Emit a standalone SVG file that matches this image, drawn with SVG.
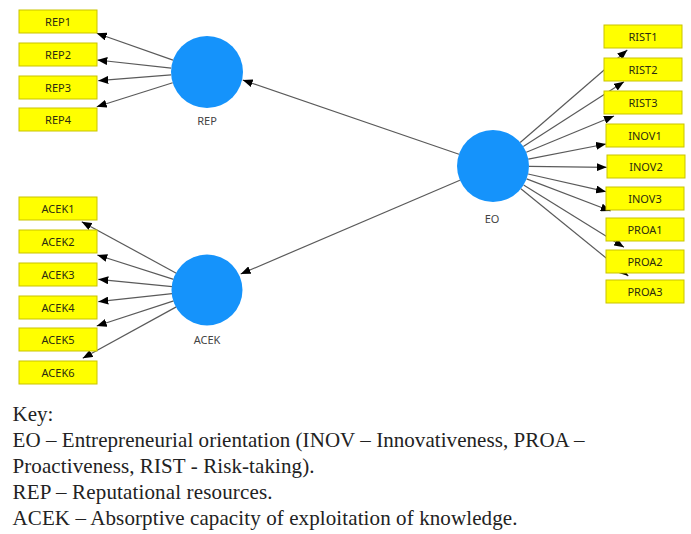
<svg xmlns="http://www.w3.org/2000/svg" width="691" height="534" viewBox="0 0 691 534">
<defs>
<marker id="arr" markerUnits="userSpaceOnUse" markerWidth="10" markerHeight="8" refX="10" refY="4" orient="auto">
<path d="M0,0 L10,4 L0,8 z" fill="#000"/>
</marker>
<style>
.c{stroke:#5a5a5a;stroke-width:1.2;fill:none;marker-end:url(#arr)}
.ind rect{fill:#FFFF00;stroke:#C9C300;stroke-width:1}
.ind text{font-family:"Noto Sans","DejaVu Sans",sans-serif;font-size:11px;fill:#2b2b10;text-anchor:middle}
.lat circle{fill:#1593FB}
.lat text{font-family:"Noto Sans","DejaVu Sans",sans-serif;font-size:11px;fill:#444;text-anchor:middle}
.key{font-family:"Liberation Serif","Times New Roman",serif;font-size:21px;fill:#222}
</style>
</defs>
<rect width="691" height="534" fill="#fff"/>
<g id="connectors">
<line class="c" x1="173" y1="60.1" x2="96.7" y2="33.3"/>
<line class="c" x1="171.2" y1="68.1" x2="97.3" y2="60"/>
<line class="c" x1="171.1" y1="74.9" x2="98.3" y2="80.7"/>
<line class="c" x1="172.7" y1="82.8" x2="96.7" y2="106.7"/>
<line class="c" x1="176.3" y1="273.2" x2="81.7" y2="221.7"/>
<line class="c" x1="173.6" y1="279.4" x2="97.3" y2="255"/>
<line class="c" x1="172.2" y1="286.6" x2="98.3" y2="279.3"/>
<line class="c" x1="172.2" y1="293.7" x2="98.3" y2="301.7"/>
<line class="c" x1="173.7" y1="300.9" x2="96.7" y2="326"/>
<line class="c" x1="176.3" y1="306.9" x2="82.7" y2="358.3"/>
<line class="c" x1="459" y1="154.3" x2="242.7" y2="80"/>
<line class="c" x1="459.9" y1="180.2" x2="240.7" y2="274"/>
<line class="c" x1="520.2" y1="142.5" x2="627.3" y2="50"/>
<line class="c" x1="523.3" y1="146.5" x2="624" y2="81.7"/>
<line class="c" x1="526.3" y1="152.2" x2="614" y2="116"/>
<line class="c" x1="528.3" y1="159.1" x2="606" y2="144"/>
<line class="c" x1="529" y1="166.4" x2="606.7" y2="167.3"/>
<line class="c" x1="528.1" y1="174" x2="606" y2="191.7"/>
<line class="c" x1="526.6" y1="178.9" x2="610.7" y2="211"/>
<line class="c" x1="523.6" y1="185" x2="624" y2="247.3"/>
<line class="c" x1="520.9" y1="188.7" x2="628.3" y2="276"/>
</g>
<g id="REP" class="lat"><circle cx="207" cy="72" r="36"/><text x="207" y="125">REP</text></g>
<g id="ACEK" class="lat"><circle cx="207" cy="290" r="35.5"/><text x="207" y="344">ACEK</text></g>
<g id="EO" class="lat"><circle cx="493" cy="166" r="36"/><text x="492" y="223">EO</text></g>
<g id="REP1" class="ind"><rect x="19" y="10" width="78" height="23"/><text x="58" y="25.5">REP1</text></g>
<g id="REP2" class="ind"><rect x="19" y="43" width="78" height="23"/><text x="58" y="58.5">REP2</text></g>
<g id="REP3" class="ind"><rect x="19" y="76" width="78" height="23"/><text x="58" y="91.5">REP3</text></g>
<g id="REP4" class="ind"><rect x="19" y="108" width="78" height="23"/><text x="58" y="123.5">REP4</text></g>
<g id="ACEK1" class="ind"><rect x="19" y="197" width="78" height="23"/><text x="58" y="212.5">ACEK1</text></g>
<g id="ACEK2" class="ind"><rect x="19" y="230" width="78" height="23"/><text x="58" y="245.5">ACEK2</text></g>
<g id="ACEK3" class="ind"><rect x="19" y="263" width="78" height="23"/><text x="58" y="278.5">ACEK3</text></g>
<g id="ACEK4" class="ind"><rect x="19" y="296" width="78" height="23"/><text x="58" y="311.5">ACEK4</text></g>
<g id="ACEK5" class="ind"><rect x="19" y="328" width="78" height="23"/><text x="58" y="343.5">ACEK5</text></g>
<g id="ACEK6" class="ind"><rect x="19" y="361" width="78" height="23"/><text x="58" y="376.5">ACEK6</text></g>
<g id="RIST1" class="ind"><rect x="604" y="25" width="78" height="23"/><text x="643" y="40.5">RIST1</text></g>
<g id="RIST2" class="ind"><rect x="604" y="58" width="78" height="23"/><text x="643" y="73.5">RIST2</text></g>
<g id="RIST3" class="ind"><rect x="604" y="91" width="78" height="23"/><text x="643" y="106.5">RIST3</text></g>
<g id="INOV1" class="ind"><rect x="606" y="124" width="78" height="23"/><text x="645" y="139.5">INOV1</text></g>
<g id="INOV2" class="ind"><rect x="607" y="155" width="78" height="23"/><text x="646" y="170.5">INOV2</text></g>
<g id="INOV3" class="ind"><rect x="606" y="187" width="78" height="23"/><text x="645" y="202.5">INOV3</text></g>
<g id="PROA1" class="ind"><rect x="606" y="218" width="78" height="23"/><text x="645" y="233.5">PROA1</text></g>
<g id="PROA2" class="ind"><rect x="606" y="250" width="78" height="23"/><text x="645" y="265.5">PROA2</text></g>
<g id="PROA3" class="ind"><rect x="606" y="280" width="78" height="23"/><text x="645" y="295.5">PROA3</text></g>
<g id="key">
<text class="key" x="12.5" y="421">Key:</text>
<text class="key" x="12.5" y="447" textLength="572" lengthAdjust="spacing">EO – Entrepreneurial orientation (INOV – Innovativeness, PROA –</text>
<text class="key" x="12.5" y="473" textLength="302" lengthAdjust="spacing">Proactiveness, RIST - Risk-taking).</text>
<text class="key" x="12.5" y="499" textLength="260" lengthAdjust="spacing">REP – Reputational resources.</text>
<text class="key" x="12.5" y="525" textLength="505" lengthAdjust="spacing">ACEK – Absorptive capacity of exploitation of knowledge.</text>
</g>
</svg>
